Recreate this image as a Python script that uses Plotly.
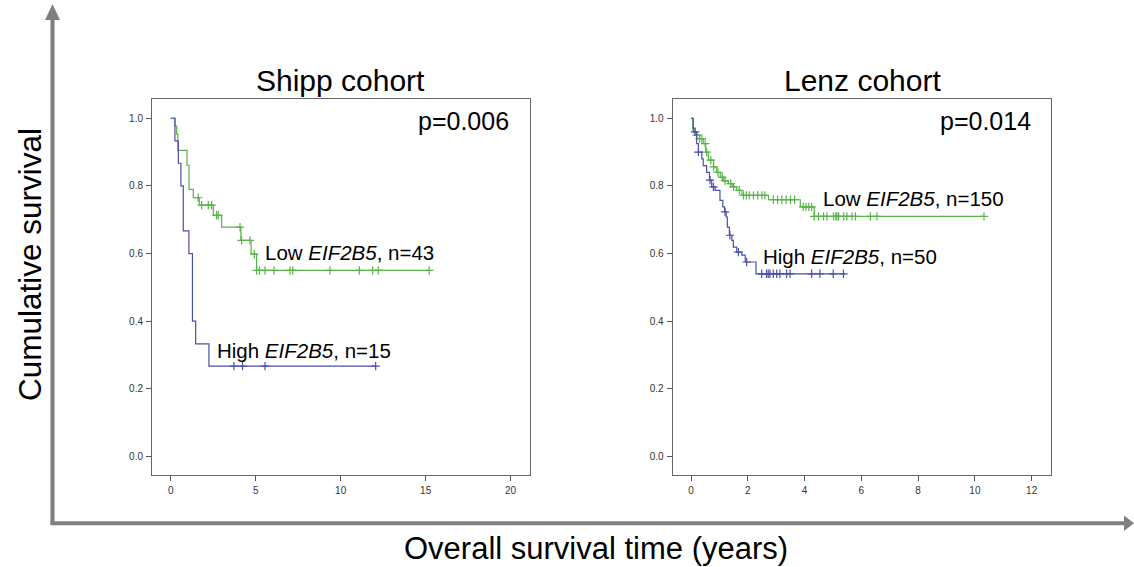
import plotly.graph_objects as go
import numpy as np

# ---------------- data ----------------
# Shipp cohort
shipp_high_t = [0, 0.25, 0.45, 0.6, 0.74, 1.07, 1.28, 1.47, 2.25, 12.06]
shipp_high_s = [1.0, 0.933, 0.867, 0.8, 0.667, 0.6, 0.4, 0.333, 0.267, 0.267]
shipp_high_cens = [3.72, 4.23, 5.55, 12.06]

shipp_low_t = [0, 0.25, 0.35, 0.42, 0.96, 1.08, 1.33, 1.68, 2.51, 3.0, 4.13, 4.73, 5.05, 15.21]
shipp_low_s = [1.0, 0.977, 0.953, 0.905, 0.861, 0.79, 0.765, 0.743, 0.713, 0.678, 0.639, 0.598, 0.55, 0.55]
shipp_low_cens = [1.62, 1.82, 2.21, 2.41, 2.7, 2.8, 4.08, 4.17, 4.66, 4.92, 5.06, 5.22,
                  5.55, 6.08, 7.02, 7.18, 9.37, 11.1, 11.88, 12.21, 15.21]

# Lenz cohort
lenz_high_t = [0, 0.08, 0.2, 0.26, 0.38, 0.43, 0.55, 0.65, 0.73, 0.85, 1.02, 1.12, 1.18,
               1.24, 1.28, 1.35, 1.44, 1.49, 1.61, 1.79, 1.91, 2.29, 5.42]
lenz_high_s = [1.0, 0.96, 0.925, 0.90, 0.88, 0.86, 0.84, 0.817, 0.797, 0.787, 0.757, 0.738, 0.723,
               0.708, 0.678, 0.654, 0.639, 0.619, 0.604, 0.595, 0.575, 0.54, 0.54]
lenz_high_cens = [0.14, 0.26, 0.67, 0.79, 1.2, 1.37, 1.67, 1.96, 2.49, 2.66, 2.72, 2.78, 2.9,
                  3.02, 3.13, 3.37, 3.49, 4.25, 4.54, 5.01, 5.37]

lenz_low_t = [0, 0.06, 0.14, 0.3, 0.43, 0.52, 0.61, 0.79, 0.9, 1.03, 1.15, 1.32, 1.45, 1.61, 1.79,
              2.73, 3.85, 4.34, 10.32]
lenz_low_s = [1.0, 0.97, 0.95, 0.94, 0.925, 0.9, 0.876, 0.856, 0.84, 0.826, 0.815, 0.807, 0.797,
              0.787, 0.772, 0.759, 0.738, 0.71, 0.71]
lenz_low_cens = [0.2, 0.3, 0.38, 0.5, 0.55, 0.7, 0.8, 0.95, 1.1, 1.2, 1.4, 1.5, 1.7, 1.85, 1.95,
                 2.05, 2.2, 2.35, 2.5, 2.6, 2.9, 3.05, 3.2, 3.35, 3.5, 3.65, 3.95, 4.05, 4.15,
                 4.25, 4.34, 4.49, 4.67, 4.79, 5.02, 5.1, 5.14, 5.2, 5.38, 5.49, 5.67, 5.79,
                 6.32, 6.55, 10.32]

GREEN = "#58b448"
BLUE = "#4b50a8"
FONT = "Liberation Sans, Arial, sans-serif"
W, H = 1134, 567


def step_val(t, ts, ss):
    idx = np.searchsorted(ts, t, side="right") - 1
    return ss[max(idx, 0)]


fig = go.Figure()


def add_curve(ts, ss, cens, color, xa, ya):
    fig.add_trace(go.Scatter(x=ts, y=ss, mode="lines", line=dict(color=color, width=1.2, shape="hv"),
                             xaxis=xa, yaxis=ya, showlegend=False, hoverinfo="skip"))
    cy = [step_val(c, ts, ss) for c in cens]
    fig.add_trace(go.Scatter(x=cens, y=cy, mode="markers",
                             marker=dict(symbol="cross-thin", size=6, line=dict(color=color, width=1.2)),
                             xaxis=xa, yaxis=ya, showlegend=False, hoverinfo="skip"))


add_curve(shipp_low_t, shipp_low_s, shipp_low_cens, GREEN, "x", "y")
add_curve(shipp_high_t, shipp_high_s, shipp_high_cens, BLUE, "x", "y")
add_curve(lenz_low_t, lenz_low_s, lenz_low_cens, GREEN, "x2", "y2")
add_curve(lenz_high_t, lenz_high_s, lenz_high_cens, BLUE, "x2", "y2")

ydom = [1 - 475 / H, 1 - 99 / H]
axis_common = dict(showline=True, linecolor="#666666", linewidth=1, mirror=True, ticks="outside",
                   ticklen=5, tickcolor="#555555", tickfont=dict(family=FONT, size=10, color="#333333"),
                   showgrid=False, zeroline=False, ticklabelstandoff=1)
fig.update_layout(
    width=W, height=H, margin=dict(l=0, r=0, t=0, b=0),
    paper_bgcolor="white", plot_bgcolor="white",
    xaxis=dict(domain=[152 / W, 530 / W], range=[-1.1, 21.14], tickvals=[0, 5, 10, 15, 20],
               anchor="y", **axis_common),
    yaxis=dict(domain=ydom, range=[-0.055, 1.057], tickvals=[0, 0.2, 0.4, 0.6, 0.8, 1.0],
               tickformat=".1f", anchor="x", **axis_common),
    xaxis2=dict(domain=[672.7 / W, 1050.7 / W], range=[-0.645, 12.67],
                tickvals=[0, 2, 4, 6, 8, 10, 12], anchor="y2", **axis_common),
    yaxis2=dict(domain=ydom, range=[-0.055, 1.057], tickvals=[0, 0.2, 0.4, 0.6, 0.8, 1.0],
                tickformat=".1f", anchor="x2", **axis_common),
)


def ann(text, px, py, size, xanchor="center", textangle=0):
    fig.add_annotation(text=text, x=px / W, y=1 - py / H, xref="paper", yref="paper",
                       xanchor=xanchor, yanchor="middle", showarrow=False, textangle=textangle,
                       font=dict(family=FONT, size=size, color="#000000"))


ann("Shipp cohort", 340, 81, 30)
ann("Lenz cohort", 862, 81, 30)
ann("p=0.006", 463, 121, 25)
ann("p=0.014", 985, 121, 25)
ann("Low <i>EIF2B5</i>, n=43", 263, 252, 20.5, "left")
ann("High <i>EIF2B5</i>, n=15", 215, 350, 20.5, "left")
ann("Low <i>EIF2B5</i>, n=150", 821, 198, 20.5, "left")
ann("High <i>EIF2B5</i>, n=50", 761, 256, 20.5, "left")
ann("Cumulative survival", 30, 265, 31.5, textangle=-90)
ann("Overall survival time (years)", 596, 548, 31)

# big frame arrows
GRAY = "#7f7f7f"
shapes = [
    dict(type="line", xref="paper", yref="paper", x0=52.5 / W, x1=52.5 / W, y0=1 - 525 / H, y1=1 - 18 / H,
         line=dict(color=GRAY, width=4)),
    dict(type="line", xref="paper", yref="paper", x0=50.5 / W, x1=1127 / W, y0=1 - 523.3 / H, y1=1 - 523.3 / H,
         line=dict(color=GRAY, width=4)),
    dict(type="path", xref="paper", yref="paper",
         path=f"M {45/W},{1-20/H} L {52.5/W},{1-4/H} L {60/W},{1-20/H} Z",
         fillcolor=GRAY, line=dict(width=0)),
    dict(type="path", xref="paper", yref="paper",
         path=f"M {1124/W},{1-515.5/H} L {1134/W},{1-523.3/H} L {1124/W},{1-531/H} Z",
         fillcolor=GRAY, line=dict(width=0)),
]
fig.update_layout(shapes=shapes)

fig.write_html("out.html", config={"displayModeBar": False},
               post_script="document.body.style.margin='0';document.body.style.padding='0';"
                           "document.documentElement.style.overflow='hidden';")
